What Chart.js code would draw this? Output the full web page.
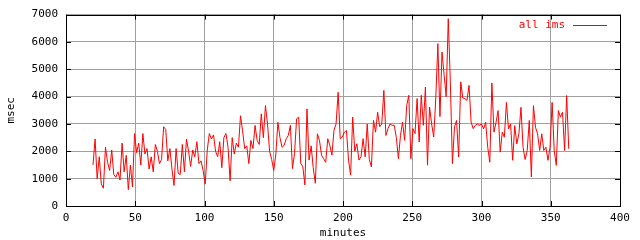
<!DOCTYPE html>
<html>
<head>
<meta charset="utf-8">
<script src="https://cdn.jsdelivr.net/npm/chart.js@4.4.1/dist/chart.umd.min.js"></script>
<style>
  html, body { margin: 0; padding: 0; background: #fff; }
  #wrap { width: 640px; height: 240px; }
</style>
</head>
<body>
<div id="wrap"><canvas id="myChart" width="640" height="240"></canvas></div>
<script>
const seriesName = "all ims";
const xTitle = "minutes";
const yTitle = "msec";
const xTicks = [0, 50, 100, 150, 200, 250, 300, 350, 400];
const yTicks = [0, 1000, 2000, 3000, 4000, 5000, 6000, 7000];

// samples every 1.5 minutes, starting at minute 19.5
const startMinute = 19.5;
const stepMinute = 1.5;

// 19.5 .. 96
const part1 = [
  1500, 2450, 1000, 1800, 800, 650, 2150, 1600, 1300, 2050,
  1150, 1050, 1250, 950, 2300, 1250, 1850, 600, 1500, 700,
  2650, 1950, 2300, 1500, 2650, 1900, 2100, 1350, 1800, 1250,
  2250, 2000, 1550, 1700, 2900, 2800, 1650, 2100, 1350, 750,
  2100, 1200, 1150, 2250, 1250, 2450, 2000, 1450, 2050, 1800,
  2350, 1550
];
// 97.5 .. 156
const part2 = [
  1650, 1300, 800, 2050, 2650, 2450, 2600, 2000, 1800, 2350,
  1400, 2500, 2650, 2150, 920, 2500, 1900, 2300, 2150, 3300,
  2750, 2100, 2200, 1550, 2400, 2100, 2950, 2400, 2250, 3370,
  2500, 3670, 3000, 2000, 1700, 1300, 1900, 3060, 2500, 2150
];
// 157.5 .. 228
const part3 = [
  2220, 2460, 2580, 2950, 1370, 1920, 3190, 3250, 1560, 1430,
  770, 3550, 1680, 2200, 1400, 830, 2640, 2400, 1860, 1730,
  1600, 2460, 2220, 1860, 2770, 3000, 4160, 2460, 2520, 2700,
  2760, 1680, 1130, 3250, 2000, 2280, 1680, 1800, 2460, 1800,
  3000, 1700, 1430, 3130, 2700, 3430, 2900, 3000
];
// 229.5 .. 298.5
const part4 = [
  4230, 2580, 2830, 3000, 2950, 2950, 2510, 1730, 2580, 3070,
  2400, 3680, 4050, 1730, 2830, 2650, 3930, 2340, 4050, 2950,
  4350, 1490, 3620, 3000, 2520, 3950, 5940, 3270, 5630, 4800,
  4000, 6850, 4540, 1550, 2890, 3130, 1790, 4540, 3950, 3930,
  3860, 4410, 3070, 2830, 2950, 3000, 2950
];
// 300 .. 363
const part5 = [
  3000, 2820, 3060, 2150, 1600, 4500, 2700, 3060, 3490, 1970,
  2700, 2520, 3790, 2820, 3000, 1670, 2940, 2270, 2640, 3610,
  2150, 1700, 2030, 3130, 1060, 3670, 2880, 2640, 2030, 2640,
  2030, 2150, 1670, 2150, 3790, 2030, 1485, 3490, 3250, 3430,
  2030, 4040, 2090
];

const msec = part1.concat(part2, part3, part4, part5);

function Points() {
  let ans = [];
  for (let i = 0; i < msec.length; i++) {
    ans.push({ x: startMinute + i * stepMinute, y: msec[i] });
  }
  return ans;
}

function Plain(value) {
  return String(value);
}

const framePlugin = {
  id: "frame",
  afterDatasetsDraw(chart) {
    const ctx = chart.ctx;
    const a = chart.chartArea;
    const xs = chart.scales.x;
    const ys = chart.scales.y;
    ctx.save();
    ctx.strokeStyle = "#000";
    ctx.lineWidth = 1;
    ctx.beginPath();
    xTicks.forEach(function (v) {
      let px = Math.round(xs.getPixelForValue(v)) + 0.5;
      ctx.moveTo(px, a.bottom);
      ctx.lineTo(px, a.bottom - 5);
      ctx.moveTo(px, a.top);
      ctx.lineTo(px, a.top + 5);
    });
    yTicks.forEach(function (v) {
      let py = Math.round(ys.getPixelForValue(v)) + 0.5;
      ctx.moveTo(a.left, py);
      ctx.lineTo(a.left + 5, py);
      ctx.moveTo(a.right, py);
      ctx.lineTo(a.right - 5, py);
    });
    ctx.stroke();
    ctx.strokeRect(Math.round(a.left) + 0.5, Math.round(a.top) + 0.5,
      Math.round(a.right - a.left), Math.round(a.bottom - a.top));

    // legend, top right inside the plot
    let ly = Math.round(a.top + 10) + 0.5;
    ctx.fillStyle = "#ff0000";
    ctx.font = "11px 'DejaVu Sans Mono', monospace";
    ctx.textAlign = "right";
    ctx.textBaseline = "middle";
    ctx.fillText(seriesName, a.right - 55, ly);
    ctx.strokeStyle = "#ff0000";
    ctx.beginPath();
    ctx.moveTo(a.right - 47, ly);
    ctx.lineTo(a.right - 13, ly);
    ctx.stroke();
    ctx.restore();
  }
};

Chart.defaults.font.family = "'DejaVu Sans Mono', monospace";
Chart.defaults.font.size = 11;
Chart.defaults.color = "#000";

const data = {
  datasets: [
    {
      label: seriesName,
      data: Points(),
      borderColor: "#ff0000",
      backgroundColor: "#ff0000",
      borderWidth: 1,
      pointRadius: 0,
      tension: 0,
      fill: false,
    },
  ],
};

const config = {
  type: "line",
  data: data,
  options: {
    responsive: false,
    animation: false,
    devicePixelRatio: 1,
    layout: { padding: { left: 0, right: 20, top: 13, bottom: 0 } },
    plugins: { legend: { display: false }, tooltip: { enabled: false } },
    scales: {
      x: {
        type: "linear",
        min: 0,
        max: 400,
        afterBuildTicks: function (scale) {
          scale.ticks = xTicks.map(function (v) { return { value: v }; });
        },
        afterFit: function (scale) { scale.height = 34; },
        ticks: { padding: 6, maxRotation: 0, autoSkip: false, callback: Plain },
        grid: { color: "#a0a0a0", lineWidth: 1, drawTicks: false },
        border: { display: false },
        title: { display: true, text: xTitle, padding: { top: 0, bottom: 0 } },
      },
      y: {
        type: "linear",
        min: 0,
        max: 7000,
        afterBuildTicks: function (scale) {
          scale.ticks = yTicks.map(function (v) { return { value: v }; });
        },
        afterFit: function (scale) { scale.width = 66; },
        ticks: { padding: 8, autoSkip: false, callback: Plain },
        grid: { color: "#a0a0a0", lineWidth: 1, drawTicks: false },
        border: { display: false },
        title: { display: true, text: yTitle, padding: { top: 5, bottom: 0 } },
      },
    },
  },
  plugins: [framePlugin],
};

new Chart(document.getElementById("myChart"), config);
</script>
</body>
</html>
